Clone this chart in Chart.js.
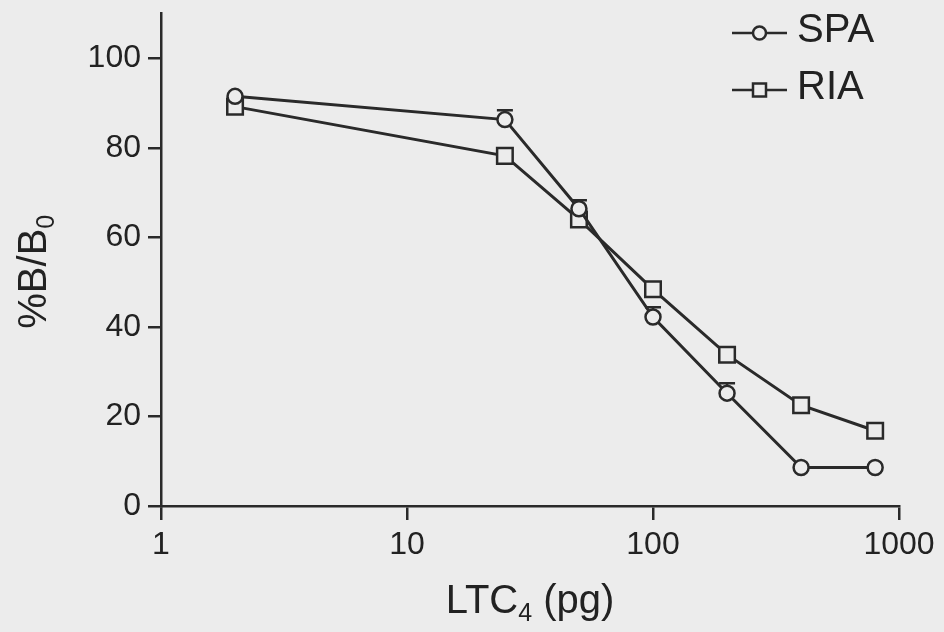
<!DOCTYPE html>
<html>
<head>
<meta charset="utf-8">
<title>LTC4 SPA vs RIA</title>
<script src="https://cdn.jsdelivr.net/npm/chart.js@4/dist/chart.umd.min.js"></script>
<style>
  html, body { margin: 0; padding: 0; background: #ececec; }
  canvas { display: block; }
</style>
</head>
<body>
<canvas id="curveChart" width="944" height="632"></canvas>
<script>
// LTC4 standard curves, %B/B0 against amount (pg)
const doses = [2, 25, 50, 100, 200, 400, 800];
const spaValues = [91.5, 86.3, 66.4, 42.2, 25.2, 8.6, 8.6];
const spaErrors = [0, 2.1, 1.9, 2.2, 2.2, 0, 0];
const riaValues = [89.2, 78.2, 64.0, 48.4, 33.8, 22.5, 16.8];
const xTicks = [1, 10, 100, 1000];
const yTicks = [0, 20, 40, 60, 80, 100];

const INK = '#2a2a2a';
const PAPER = '#ececec';
const FONT = '"Liberation Sans", Arial, sans-serif';

function toPoints(values) {
    return doses.map((d, i) => ({ x: d, y: values[i] }));
}

// upward error bars with a flat cap, drawn under the SPA markers
const errorBars = {
    id: 'errorBars',
    beforeDatasetDraw(chart, args) {
        if (args.index !== 0) return;
        const ctx = chart.ctx;
        const xs = chart.scales.x, ys = chart.scales.y;
        ctx.save();
        ctx.strokeStyle = INK;
        ctx.lineWidth = 2.5;
        spaErrors.forEach((err, i) => {
            if (!err) return;
            const px = xs.getPixelForValue(doses[i]);
            const y0 = ys.getPixelForValue(spaValues[i]);
            const y1 = ys.getPixelForValue(spaValues[i] + err);
            ctx.beginPath();
            ctx.moveTo(px, y0);
            ctx.lineTo(px, y1);
            ctx.moveTo(px - 8, y1);
            ctx.lineTo(px + 8, y1);
            ctx.stroke();
        });
        ctx.restore();
    }
};

// axis titles with subscripts
function drawSubText(ctx, parts, x, y, align) {
    let total = 0;
    parts.forEach(p => {
        ctx.font = (p.sub ? 25 : 40) + 'px ' + FONT;
        p.w = ctx.measureText(p.text).width;
        total += p.w;
    });
    let cx = align === 'center' ? x - total / 2 : x;
    parts.forEach(p => {
        ctx.font = (p.sub ? 25 : 40) + 'px ' + FONT;
        ctx.fillText(p.text, cx, p.sub ? y + 8 : y);
        cx += p.w;
    });
}

const axisTitles = {
    id: 'axisTitles',
    afterDraw(chart) {
        const ctx = chart.ctx;
        const area = chart.chartArea;
        ctx.save();
        ctx.fillStyle = '#222';
        ctx.textBaseline = 'alphabetic';
        ctx.textAlign = 'left';
        drawSubText(ctx, [{ text: 'LTC' }, { text: '4', sub: true }, { text: ' (pg)' }],
            (area.left + area.right) / 2, 613, 'center');
        ctx.translate(46, (area.top + area.bottom) / 2 + 12);
        ctx.rotate(-Math.PI / 2);
        drawSubText(ctx, [{ text: '%B/B' }, { text: '0', sub: true }], 0, 0, 'center');
        ctx.restore();
    }
};

// legend: short line with marker, then label
const curveLegend = {
    id: 'curveLegend',
    afterDraw(chart) {
        const ctx = chart.ctx;
        const right = chart.chartArea.right;
        const rows = [
            { label: 'SPA', style: 'circle', y: 33 },
            { label: 'RIA', style: 'rect', y: 90 }
        ];
        ctx.save();
        rows.forEach(r => {
            const x0 = right - 167, x1 = right - 112, mx = (x0 + x1) / 2;
            ctx.strokeStyle = INK;
            ctx.lineWidth = 2.5;
            ctx.beginPath();
            ctx.moveTo(x0, r.y);
            ctx.lineTo(x1, r.y);
            ctx.stroke();
            ctx.fillStyle = PAPER;
            ctx.beginPath();
            if (r.style === 'circle') {
                ctx.arc(mx, r.y, 6.5, 0, Math.PI * 2);
            } else {
                ctx.rect(mx - 6.5, r.y - 6.5, 13, 13);
            }
            ctx.fill();
            ctx.stroke();
            ctx.fillStyle = '#222';
            ctx.font = '40px ' + FONT;
            ctx.textBaseline = 'middle';
            ctx.fillText(r.label, right - 102, r.y - 2);
        });
        ctx.restore();
    }
};

const background = {
    id: 'background',
    beforeDraw(chart) {
        const ctx = chart.ctx;
        ctx.save();
        ctx.fillStyle = PAPER;
        ctx.fillRect(0, 0, chart.width, chart.height);
        ctx.restore();
    }
};

const data = {
    datasets: [
        {
            label: 'SPA',
            data: toPoints(spaValues),
            borderColor: INK,
            borderWidth: 3,
            pointStyle: 'circle',
            pointRadius: 7.5,
            pointBorderWidth: 2.5,
            pointBorderColor: INK,
            pointBackgroundColor: PAPER,
            tension: 0
        },
        {
            label: 'RIA',
            data: toPoints(riaValues),
            borderColor: INK,
            borderWidth: 3,
            pointStyle: 'rect',
            pointRadius: 11,
            pointBorderWidth: 2.5,
            pointBorderColor: INK,
            pointBackgroundColor: PAPER,
            tension: 0
        }
    ]
};

const config = {
    type: 'line',
    data: data,
    options: {
        responsive: false,
        animation: false,
        devicePixelRatio: 1,
        layout: { padding: { top: 9, right: 45, left: 0, bottom: 0 } },
        plugins: {
            legend: { display: false },
            tooltip: { enabled: false }
        },
        scales: {
            x: {
                type: 'logarithmic',
                min: 1,
                max: 1000,
                afterBuildTicks: s => { s.ticks = xTicks.map(v => ({ value: v })); },
                afterFit: s => {
                    s.height = 126;
                    s.paddingLeft = 0;
                    s.paddingRight = 0;
                },
                border: { display: true, color: INK, width: 2.5 },
                grid: { drawOnChartArea: false, drawTicks: true, tickLength: 14, color: INK, lineWidth: 2.5 },
                ticks: {
                    color: '#222',
                    font: { family: FONT, size: 32 },
                    padding: 6,
                    maxRotation: 0,
                    autoSkip: false,
                    callback: v => String(v)
                }
            },
            y: {
                type: 'linear',
                min: 0,
                max: 110,
                afterBuildTicks: s => { s.ticks = yTicks.map(v => ({ value: v })); },
                afterFit: s => {
                    s.width = 161;
                    s.paddingTop = 0;
                    s.paddingBottom = 0;
                },
                border: { display: true, color: INK, width: 2.5 },
                grid: { drawOnChartArea: false, drawTicks: true, tickLength: 13, color: INK, lineWidth: 2.5 },
                ticks: {
                    color: '#222',
                    font: { family: FONT, size: 32 },
                    padding: 7,
                    autoSkip: false
                }
            }
        }
    },
    plugins: [background, errorBars, axisTitles, curveLegend]
};

new Chart(document.getElementById('curveChart').getContext('2d'), config);
</script>
</body>
</html>
